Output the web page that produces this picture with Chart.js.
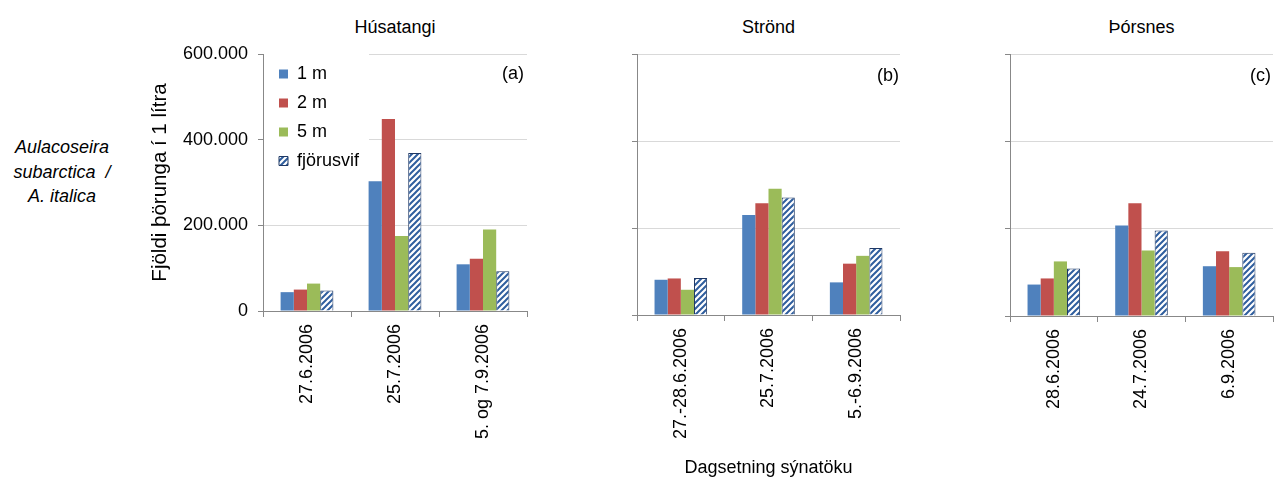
<!DOCTYPE html>
<html><head><meta charset="utf-8">
<script src="https://cdn.jsdelivr.net/npm/chart.js@4/dist/chart.umd.min.js"></script>
<style>
html,body{margin:0;padding:0;background:#fff;width:1281px;height:479px;overflow:hidden;font-family:"Liberation Sans",Arial,sans-serif;color:#000}
.box{position:absolute;top:0;height:479px}
.t{position:absolute;font-size:18px;line-height:20px;white-space:nowrap}
.side{position:absolute;left:0;width:124px;top:135px;text-align:center;font-style:italic;font-size:18px;line-height:24.5px}
</style></head><body>
<div class="side">Aulacoseira<br>subarctica&nbsp;&nbsp;/<br>A. italica</div>
<div class="t" style="left:263px;width:264px;top:17px;text-align:center">Húsatangi</div>
<div class="t" style="left:637px;width:263px;top:17px;text-align:center">Strönd</div>
<div class="t" style="left:1010px;width:263px;top:17px;text-align:center">Þórsnes</div>
<div class="box" style="left:140px;width:400px"><canvas id="c1"></canvas></div>
<div class="box" style="left:560px;width:360px"><canvas id="c2"></canvas></div>
<div class="box" style="left:930px;width:351px"><canvas id="c3"></canvas></div>
<div class="t" style="left:263px;width:261px;top:63px;text-align:right">(a)</div>
<div class="t" style="left:637px;width:262px;top:65px;text-align:right">(b)</div>
<div class="t" style="left:1010px;width:261px;top:65px;text-align:right">(c)</div>
<script>
// ---- data ----
const seriesNames = ['1 m', '2 m', '5 m', 'fjörusvif'];
const yTickValues = [0, 200000, 400000, 600000];

const husCats = ['27.6.2006', '25.7.2006', '5. og 7.9.2006'];
const husM1 = [44000, 303000, 109000];
const husM2 = [50000, 448000, 122000];
const husM5 = [64000, 175000, 190000];
const husFj = [48000, 369000, 93000];

const strCats = ['27.-28.6.2006', '25.7.2006', '5.-6.9.2006'];
const strM1 = [81000, 230000, 75000];
const strM2 = [84000, 257000, 118000];
const strM5 = [58000, 290000, 136000];
const strFj = [85000, 270000, 154000];

const thoCats = ['28.6.2006', '24.7.2006', '6.9.2006'];
const thoM1 = [72000, 207000, 114000];
const thoM2 = [86000, 258000, 148000];
const thoM5 = [125000, 150000, 112000];
const thoFj = [109000, 196000, 145000];

// ---- styling ----
Chart.defaults.font.family = '"Liberation Sans", Arial, sans-serif';
Chart.defaults.font.size = 18;
Chart.defaults.color = '#000';

function hatch() {
  const c = document.createElement('canvas');
  c.width = 6; c.height = 6;
  const x = c.getContext('2d');
  x.fillStyle = '#fff'; x.fillRect(0, 0, 6, 6);
  x.strokeStyle = '#2F5E9E'; x.lineWidth = 2;
  x.beginPath();
  x.moveTo(-1, 7); x.lineTo(7, -1);
  x.moveTo(-4, 4); x.lineTo(4, -4);
  x.moveTo(2, 10); x.lineTo(10, 2);
  x.stroke();
  return x.createPattern(c, 'repeat');
}
const hatchFill = hatch();

const fmt = v => String(v).replace(/\B(?=(\d{3})+(?!\d))/g, '.');

const LEG_PAD = 11;
const legendBg = {
  id: 'legendBg',
  beforeDraw(chart) {
    const lg = chart.legend;
    if (!lg || !lg.options.display) return;
    const ca = chart.chartArea;
    // anchor the in-plot legend to the top-left of the plot area
    lg.left = ca.left + 5; lg.right = lg.left + lg.width;
    lg.top = ca.top; lg.bottom = lg.top + lg.height;
    const hb = lg.legendHitBoxes || [];
    if (hb.length) {
      const dx = (lg.left + LEG_PAD) - hb[0].left;
      const dy = (lg.top + LEG_PAD) - hb[0].top;
      hb.forEach(h => { h.left += dx; h.top += dy; });
    }
  },
  beforeDatasetsDraw(chart) {
    const lg = chart.legend;
    if (!lg || !lg.options.display || !lg.legendHitBoxes || !lg.legendHitBoxes.length) return;
    const hb = lg.legendHitBoxes, ca = chart.chartArea, ctx = chart.ctx;
    const right = Math.max(...hb.map(h => h.left + h.width)) + 10;
    const bottom = Math.max(...hb.map(h => h.top + h.height)) + 10;
    ctx.save();
    ctx.fillStyle = '#fff';
    ctx.fillRect(ca.left + 1, ca.top - 1, right - ca.left - 1, bottom - ca.top + 1);
    ctx.restore();
    lg.draw();
  }
};

function makeChart(id, cats, m1, m2, m5, fj, o) {
  return new Chart(document.getElementById(id), {
    type: 'bar',
    data: {
      labels: cats,
      datasets: [
        { label: seriesNames[0], data: m1, backgroundColor: '#4F81BD', borderWidth: 0 },
        { label: seriesNames[1], data: m2, backgroundColor: '#C0504D', borderWidth: 0 },
        { label: seriesNames[2], data: m5, backgroundColor: '#9BBB59', borderWidth: 0 },
        { label: seriesNames[3], data: fj, backgroundColor: hatchFill, borderColor: '#1F3864', borderWidth: 1 }
      ]
    },
    options: {
      responsive: true, maintainAspectRatio: false, animation: false,
      layout: { padding: { top: 54, right: o.padRight, bottom: 0, left: 0 } },
      datasets: { bar: { categoryPercentage: 0.6, barPercentage: 1 } },
      plugins: {
        tooltip: { enabled: false },
        legend: {
          display: !!o.legend, position: 'chartArea', align: 'start',
          labels: { boxWidth: 9, boxHeight: 9, padding: LEG_PAD, font: { size: 18 }, color: '#000' }
        }
      },
      scales: {
        x: {
          grid: { offset: true, drawOnChartArea: false, drawTicks: true, tickLength: 6, color: '#888' },
          border: { color: '#888' },
          ticks: { autoSkip: false, minRotation: 90, maxRotation: 90, padding: 7, font: { size: 18 } },
          title: { display: !!o.xTitle, text: o.xTitle || '', font: { size: 18 }, padding: { top: 0, bottom: 0 } },
          afterFit: s => { s.height = o.xHeight; }
        },
        y: {
          min: 0, max: 600000,
          afterBuildTicks: s => { s.ticks = yTickValues.map(v => ({ value: v })); },
          ticks: { display: !!o.showY, padding: 10, callback: v => fmt(v), font: { size: 18 } },
          grid: { color: '#D9D9D9', tickColor: '#888', tickLength: 5 },
          border: { color: '#888' },
          title: { display: !!o.yTitle, text: o.yTitle || '', font: { size: 20.5 }, padding: { top: 8, bottom: 0 } },
          afterFit: s => { s.width = o.yWidth; }
        }
      }
    },
    plugins: [legendBg]
  });
}

makeChart('c1', husCats, husM1, husM2, husM5, husFj,
  { legend: true, showY: true, yTitle: 'Fjöldi þörunga í 1 lítra', yWidth: 123, padRight: 13, xHeight: 168 });
makeChart('c2', strCats, strM1, strM2, strM5, strFj,
  { yWidth: 77, padRight: 20, xHeight: 164, xTitle: 'Dagsetning sýnatöku' });
makeChart('c3', thoCats, thoM1, thoM2, thoM5, thoFj,
  { yWidth: 80, padRight: 8, xHeight: 163 });
</script>
</body></html>
